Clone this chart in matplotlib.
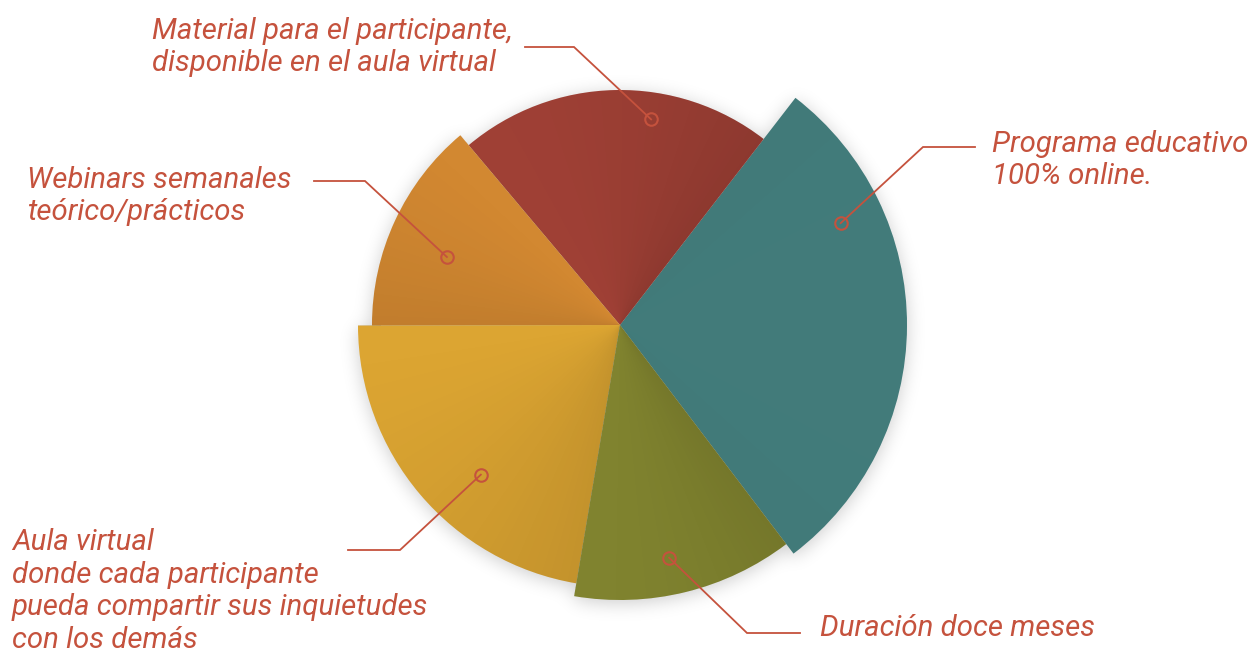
import numpy as np
import matplotlib
matplotlib.use("Agg")
import matplotlib.pyplot as plt

# ---------------- data ----------------
labels = [
    "Programa educativo\n100% online.",
    "Material para el participante,\ndisponible en el aula virtual",
    "Webinars semanales\nteórico/prácticos",
    "Aula virtual\ndonde cada participante\npueda compartir sus inquietudes\ncon los demás",
    "Duración doce meses",
]
values = [29.2, 21.6, 13.9, 22.3, 13.0]
radii = [287, 235, 248, 262, 275]          # per-slice radius (px)
colors = ["#447f7e", "#a44237", "#d28831", "#dca532", "#838630"]

# ---------------- layout ----------------
W, H = 1251, 648
cx, cy = 620, H - 325
start_angle = -52.8
text_color = "#c5523d"

# darkening at clockwise edge / counter-clockwise edge of each slice
shade_edges = [(0.04, 0.04), (0.14, 0.03), (0.0, 0.08), (0.0, 0.11), (0.02, 0.11)]
# label anchors: (fraction along slice angle, fraction of radius)
anchor = [(0.738, 0.847), (0.374, 0.885), (0.569, 0.75), (0.585, 0.78), (0.46, 0.865)]
# elbow / end of leader (pixel coords, y down), text pos
elbow = [(923, 147), (574, 47), (365, 181), (400, 550), (747, 633)]
lend = [(975, 147), (525, 47), (314, 181), (348, 550), (800, 633)]
tpos = [(992, 160), (152, 47), (27, 196), (12, 591), (820, 628)]

fig = plt.figure(figsize=(W / 100, H / 100), dpi=100)
ax = fig.add_axes([0, 0, 1, 1])

wedges, _ = ax.pie(values, startangle=start_angle, counterclock=True, colors=colors,
                   center=(cx, cy), radius=1, wedgeprops=dict(linewidth=0))
for w, r in zip(wedges, radii):
    w.set_radius(r)
    w.set_zorder(2)

ax.set_xlim(0, W)
ax.set_ylim(0, H)
ax.set_aspect("equal")
ax.axis("off")

# ---------------- shadow ----------------
fr = np.array(values) / np.sum(values)
cum = np.cumsum(fr) * 360.0
xs = np.arange(W) + 0.5
ys = np.arange(H) + 0.5
X, Y = np.meshgrid(xs, ys)
ANG = np.degrees(np.arctan2(Y - cy, X - cx))
th = (ANG - start_angle) % 360.0
idx = np.clip(np.searchsorted(cum, th), 0, len(values) - 1)
R = np.array(radii)[idx]
D = np.hypot(X - cx, Y - cy)
mask = (D < R).astype(float)
mask = np.roll(mask, -3, axis=0)

def blur(a, s):
    k = np.arange(-3 * s, 3 * s + 1)
    g = np.exp(-0.5 * (k / s) ** 2)
    g /= g.sum()
    a = np.apply_along_axis(lambda m: np.convolve(m, g, mode="same"), 1, a)
    a = np.apply_along_axis(lambda m: np.convolve(m, g, mode="same"), 0, a)
    return a

sh = blur(mask, 9)
rgba = np.zeros((H, W, 4))
rgba[..., 3] = sh * 0.2
ax.imshow(rgba, extent=(0, W, 0, H), origin="lower", zorder=1, interpolation="bilinear")

# ---------------- subtle shading inside slices ----------------
for i, w in enumerate(wedges):
    a0 = start_angle + (cum[i - 1] if i > 0 else 0)
    a1 = start_angle + cum[i]
    t = np.clip(((ANG - a0) % 360.0) / (a1 - a0), 0, 1)
    d0, d1 = shade_edges[i]
    shade = np.zeros((H, W, 4))
    shade[..., 3] = d0 * (1 - t) ** 1.5 + d1 * t ** 1.5
    im = ax.imshow(shade, extent=(0, W, 0, H), origin="lower", zorder=3,
                   interpolation="bilinear")
    im.set_clip_path(w)

# ---------------- labels ----------------
font = dict(family=["Roboto", "DejaVu Sans"], style="italic", fontsize=21.2, color=text_color)
for i, w in enumerate(wedges):
    a0 = start_angle + (cum[i - 1] if i > 0 else 0)
    a1 = start_angle + cum[i]
    fa, frr = anchor[i]
    ang = np.radians(a0 + fa * (a1 - a0))
    px = cx + frr * radii[i] * np.cos(ang)
    py = cy + frr * radii[i] * np.sin(ang)
    ex, ey = elbow[i][0], H - elbow[i][1]
    lx, ly = lend[i][0], H - lend[i][1]
    ax.plot([px, ex, lx], [py, ey, ly], color=text_color, lw=1.3, zorder=5,
            solid_joinstyle="miter")
    ax.plot([px], [py], marker="o", ms=9, mfc="none", mec=text_color, mew=1.5, zorder=6)
    ax.text(tpos[i][0], H - tpos[i][1], labels[i], ha="left", va="center",
            linespacing=1.2, zorder=7, **font)

fig.savefig("out.png", dpi=100)
